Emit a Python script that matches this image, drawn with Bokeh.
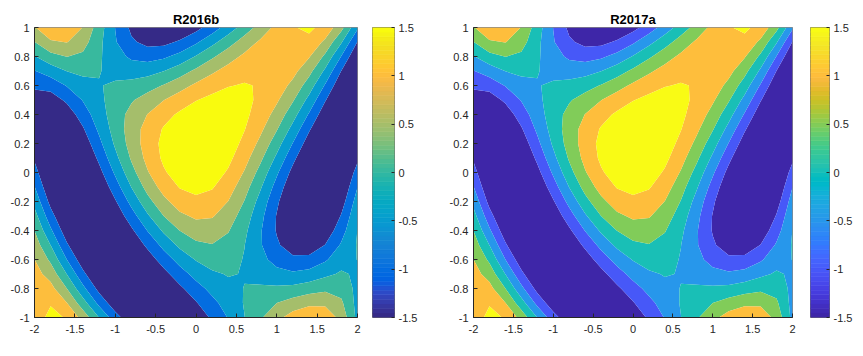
import numpy as np
from bokeh.plotting import figure
from bokeh.layouts import row
from bokeh.models import FixedTicker
from bokeh.embed import file_html
from bokeh.resources import INLINE

# ---------------- data ----------------
x_vals = [-2.0, -1.8, -1.6, -1.4, -1.2, -1.0, -0.8, -0.6, -0.4, -0.2, 0.0,
          0.2, 0.4, 0.6, 0.8, 1.0, 1.2, 1.4, 1.6, 1.8, 2.0]
y_vals = [-1.0, -0.9, -0.8, -0.7, -0.6, -0.5, -0.4, -0.3, -0.2, -0.1, 0.0,
          0.1, 0.2, 0.3, 0.4, 0.5, 0.6, 0.7, 0.8, 0.9, 1.0]

# one row of surface values per y value (x from -2 to 2)
z_y_m10 = [1.24, 1.64, 1.46, 0.82, -0.01, -0.79, -1.38, -1.70, -1.77, -1.63, -1.33, -0.92, -0.47, -0.01, 0.44, 0.86, 1.22, 1.43, 1.35, 0.83, -0.14]
z_y_m09 = [1.34, 1.46, 1.01, 0.21, -0.64, -1.32, -1.72, -1.83, -1.71, -1.42, -1.04, -0.64, -0.28, 0.03, 0.28, 0.50, 0.71, 0.88, 0.89, 0.58, -0.17]
z_y_m08 = [1.31, 1.16, 0.50, -0.37, -1.16, -1.67, -1.86, -1.77, -1.49, -1.10, -0.70, -0.35, -0.11, 0.01, 0.06, 0.08, 0.14, 0.27, 0.39, 0.32, -0.14]
z_y_m07 = [1.19, 0.80, -0.01, -0.88, -1.54, -1.85, -1.83, -1.57, -1.16, -0.72, -0.33, -0.07, 0.03, -0.02, -0.17, -0.34, -0.42, -0.33, -0.11, 0.06, -0.07]
z_y_m06 = [1.00, 0.40, -0.50, -1.30, -1.78, -1.89, -1.67, -1.26, -0.77, -0.31, 0.03, 0.20, 0.18, -0.03, -0.35, -0.69, -0.89, -0.86, -0.57, -0.18, 0.01]
z_y_m05 = [0.77, -0.01, -0.93, -1.62, -1.90, -1.80, -1.41, -0.89, -0.35, 0.11, 0.40, 0.48, 0.34, 0.01, -0.46, -0.93, -1.26, -1.30, -0.99, -0.44, 0.04]
z_y_m04 = [0.49, -0.42, -1.30, -1.83, -1.91, -1.61, -1.09, -0.48, 0.08, 0.51, 0.75, 0.76, 0.53, 0.11, -0.46, -1.04, -1.49, -1.62, -1.34, -0.70, 0.01]
z_y_m03 = [0.18, -0.80, -1.60, -1.95, -1.82, -1.36, -0.72, -0.07, 0.50, 0.90, 1.08, 1.04, 0.75, 0.27, -0.36, -1.03, -1.58, -1.83, -1.62, -0.96, -0.09]
z_y_m02 = [-0.15, -1.16, -1.82, -1.97, -1.65, -1.05, -0.35, 0.33, 0.87, 1.24, 1.39, 1.30, 0.99, 0.48, -0.19, -0.91, -1.54, -1.91, -1.83, -1.23, -0.27]
z_y_m01 = [-0.48, -1.45, -1.96, -1.90, -1.43, -0.73, 0.01, 0.68, 1.20, 1.53, 1.64, 1.54, 1.23, 0.71, 0.05, -0.69, -1.40, -1.89, -1.96, -1.47, -0.51]
z_y_p00 = [-0.79, -1.68, -2.00, -1.76, -1.16, -0.42, 0.32, 0.96, 1.44, 1.74, 1.84, 1.74, 1.44, 0.96, 0.32, -0.42, -1.16, -1.76, -2.00, -1.68, -0.79]
z_y_p01 = [-1.07, -1.82, -1.95, -1.56, -0.89, -0.14, 0.56, 1.15, 1.59, 1.87, 1.96, 1.88, 1.62, 1.19, 0.60, -0.10, -0.86, -1.55, -1.95, -1.84, -1.10]
z_y_p02 = [-1.27, -1.86, -1.81, -1.32, -0.63, 0.08, 0.71, 1.23, 1.63, 1.89, 2.00, 1.95, 1.74, 1.38, 0.87, 0.22, -0.52, -1.26, -1.82, -1.93, -1.39]
z_y_p03 = [-1.37, -1.78, -1.58, -1.05, -0.40, 0.21, 0.74, 1.19, 1.54, 1.80, 1.93, 1.93, 1.80, 1.52, 1.10, 0.54, -0.16, -0.93, -1.61, -1.94, -1.64]
z_y_p04 = [-1.36, -1.57, -1.28, -0.76, -0.22, 0.25, 0.66, 1.01, 1.33, 1.58, 1.76, 1.83, 1.78, 1.60, 1.29, 0.82, 0.20, -0.55, -1.32, -1.85, -1.83]
z_y_p05 = [-1.21, -1.25, -0.91, -0.47, -0.10, 0.20, 0.45, 0.71, 0.99, 1.25, 1.48, 1.63, 1.67, 1.61, 1.41, 1.07, 0.55, -0.15, -0.96, -1.67, -1.93]
z_y_p06 = [-0.92, -0.81, -0.47, -0.18, -0.02, 0.06, 0.15, 0.30, 0.53, 0.81, 1.09, 1.32, 1.48, 1.53, 1.47, 1.26, 0.87, 0.26, -0.55, -1.39, -1.92]
z_y_p07 = [-0.52, -0.27, 0.01, 0.11, 0.02, -0.12, -0.22, -0.18, -0.01, 0.27, 0.60, 0.92, 1.18, 1.37, 1.44, 1.39, 1.15, 0.66, -0.09, -1.01, -1.78]
z_y_p08 = [-0.03, 0.33, 0.51, 0.40, 0.07, -0.31, -0.59, -0.69, -0.59, -0.33, 0.03, 0.42, 0.79, 1.10, 1.32, 1.43, 1.36, 1.04, 0.40, -0.52, -1.48]
z_y_p09 = [0.49, 0.93, 1.02, 0.70, 0.13, -0.46, -0.92, -1.15, -1.14, -0.93, -0.58, -0.15, 0.29, 0.72, 1.08, 1.36, 1.48, 1.37, 0.90, 0.05, -1.02]
z_y_p10 = [0.96, 1.46, 1.46, 0.98, 0.24, -0.51, -1.11, -1.48, -1.59, -1.47, -1.17, -0.76, -0.28, 0.22, 0.70, 1.14, 1.47, 1.59, 1.35, 0.66, -0.42]

levels = [-1.5, -1.0, -0.5, 0.0, 0.5, 1.0, 1.5]
clim = [-1.5, 1.5]

x_ticks = [-2.0, -1.5, -1.0, -0.5, 0.0, 0.5, 1.0, 1.5, 2.0]
x_tick_labels = ["-2", "-1.5", "-1", "-0.5", "0", "0.5", "1", "1.5", "2"]
y_ticks = [-1.0, -0.8, -0.6, -0.4, -0.2, 0.0, 0.2, 0.4, 0.6, 0.8, 1.0]
y_tick_labels = ["-1", "-0.8", "-0.6", "-0.4", "-0.2", "0", "0.2", "0.4", "0.6", "0.8", "1"]
cbar_ticks = [-1.5, -1.0, -0.5, 0.0, 0.5, 1.0, 1.5]
cbar_tick_labels = ["-1.5", "-1", "-0.5", "0", "0.5", "1", "1.5"]
titles = ["R2016b", "R2017a"]

# ---------------- colormaps (style) ----------------
PARULA_OLD = [
    (0.2081, 0.1663, 0.5292), (0.2116, 0.1898, 0.5777), (0.2123, 0.2138, 0.6270), (0.2081, 0.2386, 0.6771),
    (0.1959, 0.2645, 0.7279), (0.1707, 0.2919, 0.7792), (0.1253, 0.3242, 0.8303), (0.0591, 0.3598, 0.8683),
    (0.0117, 0.3875, 0.8820), (0.0060, 0.4086, 0.8828), (0.0165, 0.4266, 0.8786), (0.0329, 0.4430, 0.8720),
    (0.0498, 0.4586, 0.8641), (0.0629, 0.4737, 0.8554), (0.0723, 0.4887, 0.8467), (0.0779, 0.5040, 0.8384),
    (0.0793, 0.5200, 0.8312), (0.0749, 0.5375, 0.8263), (0.0641, 0.5570, 0.8240), (0.0488, 0.5772, 0.8228),
    (0.0343, 0.5966, 0.8199), (0.0265, 0.6137, 0.8135), (0.0239, 0.6287, 0.8038), (0.0231, 0.6418, 0.7913),
    (0.0228, 0.6535, 0.7768), (0.0267, 0.6642, 0.7607), (0.0384, 0.6743, 0.7436), (0.0590, 0.6838, 0.7254),
    (0.0843, 0.6928, 0.7062), (0.1133, 0.7015, 0.6859), (0.1453, 0.7098, 0.6646), (0.1801, 0.7177, 0.6424),
    (0.2178, 0.7250, 0.6193), (0.2586, 0.7317, 0.5954), (0.3022, 0.7376, 0.5712), (0.3482, 0.7424, 0.5473),
    (0.3953, 0.7459, 0.5244), (0.4420, 0.7481, 0.5033), (0.4871, 0.7491, 0.4840), (0.5300, 0.7491, 0.4661),
    (0.5709, 0.7485, 0.4494), (0.6099, 0.7473, 0.4337), (0.6473, 0.7456, 0.4188), (0.6834, 0.7435, 0.4044),
    (0.7184, 0.7411, 0.3905), (0.7525, 0.7384, 0.3768), (0.7858, 0.7356, 0.3633), (0.8185, 0.7327, 0.3498),
    (0.8507, 0.7299, 0.3360), (0.8824, 0.7274, 0.3217), (0.9139, 0.7258, 0.3063), (0.9450, 0.7261, 0.2886),
    (0.9739, 0.7314, 0.2666), (0.9938, 0.7455, 0.2403), (0.9990, 0.7653, 0.2164), (0.9955, 0.7861, 0.1967),
    (0.9880, 0.8066, 0.1794), (0.9789, 0.8271, 0.1633), (0.9697, 0.8481, 0.1475), (0.9626, 0.8705, 0.1309),
    (0.9589, 0.8949, 0.1132), (0.9598, 0.9218, 0.0948), (0.9661, 0.9514, 0.0755), (0.9763, 0.9831, 0.0538),
]
PARULA_NEW = [
    (0.2422, 0.1504, 0.6603), (0.2504, 0.1650, 0.7076), (0.2578, 0.1818, 0.7511), (0.2647, 0.1978, 0.7952),
    (0.2706, 0.2147, 0.8364), (0.2751, 0.2342, 0.8710), (0.2783, 0.2559, 0.8991), (0.2803, 0.2782, 0.9221),
    (0.2813, 0.3006, 0.9414), (0.2810, 0.3228, 0.9579), (0.2795, 0.3447, 0.9717), (0.2760, 0.3667, 0.9829),
    (0.2699, 0.3892, 0.9906), (0.2602, 0.4123, 0.9952), (0.2440, 0.4358, 0.9988), (0.2206, 0.4603, 0.9973),
    (0.1963, 0.4847, 0.9892), (0.1834, 0.5074, 0.9798), (0.1786, 0.5289, 0.9682), (0.1764, 0.5499, 0.9520),
    (0.1687, 0.5703, 0.9359), (0.1540, 0.5902, 0.9218), (0.1460, 0.6091, 0.9079), (0.1380, 0.6276, 0.8973),
    (0.1248, 0.6459, 0.8883), (0.1113, 0.6635, 0.8763), (0.0952, 0.6798, 0.8598), (0.0689, 0.6948, 0.8394),
    (0.0297, 0.7082, 0.8163), (0.0036, 0.7203, 0.7917), (0.0067, 0.7312, 0.7660), (0.0433, 0.7411, 0.7394),
    (0.0964, 0.7500, 0.7120), (0.1408, 0.7584, 0.6842), (0.1717, 0.7670, 0.6554), (0.1938, 0.7758, 0.6251),
    (0.2161, 0.7843, 0.5923), (0.2470, 0.7918, 0.5567), (0.2906, 0.7973, 0.5188), (0.3406, 0.8008, 0.4789),
    (0.3909, 0.8029, 0.4354), (0.4456, 0.8024, 0.3909), (0.5044, 0.7993, 0.3480), (0.5616, 0.7942, 0.3045),
    (0.6174, 0.7876, 0.2612), (0.6720, 0.7793, 0.2227), (0.7242, 0.7698, 0.1910), (0.7738, 0.7598, 0.1646),
    (0.8203, 0.7498, 0.1535), (0.8634, 0.7406, 0.1596), (0.9035, 0.7330, 0.1774), (0.9393, 0.7288, 0.2100),
    (0.9728, 0.7298, 0.2394), (0.9956, 0.7434, 0.2371), (0.9970, 0.7659, 0.2199), (0.9952, 0.7893, 0.2028),
    (0.9892, 0.8136, 0.1885), (0.9786, 0.8386, 0.1766), (0.9676, 0.8639, 0.1643), (0.9610, 0.8890, 0.1537),
    (0.9597, 0.9135, 0.1423), (0.9628, 0.9373, 0.1265), (0.9691, 0.9606, 0.1064), (0.9769, 0.9839, 0.0805),
]


def to_hex(rgb):
    return "#%02x%02x%02x" % tuple(int(round(c * 255)) for c in rgb)


pal_old = [to_hex(c) for c in PARULA_OLD]
pal_new = [to_hex(c) for c in PARULA_NEW]

Z = np.array([z_y_m10, z_y_m09, z_y_m08, z_y_m07, z_y_m06, z_y_m05, z_y_m04,
              z_y_m03, z_y_m02, z_y_m01, z_y_p00, z_y_p01, z_y_p02, z_y_p03,
              z_y_p04, z_y_p05, z_y_p06, z_y_p07, z_y_p08, z_y_p09, z_y_p10])

FONT = "Liberation Sans"
TXT = "#262626"
TOP, BOTTOM = 27, 30
FRAME_H = 290
H = TOP + FRAME_H + BOTTOM


def level_color(pal, lev):
    n = len(pal)
    idx = int(np.floor((lev - clim[0]) / (clim[1] - clim[0]) * n))
    return pal[max(0, min(n - 1, idx))]


def make_panel(title, pal, left, right, frame_w):
    p = figure(width=left + frame_w + right, height=H, x_range=(-2, 2), y_range=(-1, 1),
               toolbar_location=None, output_backend="svg",
               min_border_left=left, min_border_right=right,
               min_border_top=TOP, min_border_bottom=BOTTOM)
    zmin, zmax = float(Z.min()), float(Z.max())
    edges = [min(zmin, levels[0]) - 0.5] + levels[1:] + [max(zmax, levels[-1]) + 0.5]
    fills = [level_color(pal, lv) for lv in levels]
    p.contour(x=x_vals, y=y_vals, z=Z, levels=edges, fill_color=fills)
    p.grid.visible = False
    p.outline_line_color = TXT
    p.outline_line_alpha = 0.55
    for ax, ticks, labs, so in ((p.xaxis, x_ticks, x_tick_labels, 7),
                                 (p.yaxis, y_ticks, y_tick_labels, 5)):
        ax.ticker = FixedTicker(ticks=ticks)
        ax.major_label_overrides = dict(zip(ticks, labs))
        ax.major_tick_in = 4
        ax.major_tick_out = 0
        ax.minor_tick_line_color = None
        ax.axis_line_color = TXT
        ax.major_tick_line_color = TXT
        ax.major_label_text_font = FONT
        ax.major_label_text_font_size = "11px"
        ax.major_label_text_color = TXT
        ax.major_label_standoff = so
    p.title.text = title
    p.title.align = "center"
    p.title.text_font = FONT
    p.title.text_font_style = "bold"
    p.title.text_font_size = "13px"
    p.title.text_color = "black"
    p.title.standoff = 2
    return p


def make_cbar(pal, left, right, bar_w):
    c = figure(width=left + bar_w + right, height=H, x_range=(0, 1), y_range=(clim[0], clim[1]),
               toolbar_location=None, output_backend="svg", y_axis_location="right",
               min_border_left=left, min_border_right=right,
               min_border_top=TOP, min_border_bottom=BOTTOM)
    e = np.linspace(clim[0], clim[1], len(pal) + 1)
    c.quad(left=0, right=1, bottom=e[:-1], top=e[1:], fill_color=pal, line_color=pal, line_width=0.6)
    c.xaxis.visible = False
    c.grid.visible = False
    c.outline_line_color = "#6e6e6e"
    ax = c.yaxis[0]
    ax.ticker = FixedTicker(ticks=cbar_ticks)
    ax.major_label_overrides = dict(zip(cbar_ticks, cbar_tick_labels))
    ax.axis_line_color = None
    ax.major_tick_in = 3
    ax.major_tick_out = 0
    ax.major_tick_line_color = TXT
    ax.minor_tick_line_color = None
    ax.major_label_text_font = FONT
    ax.major_label_text_font_size = "11px"
    ax.major_label_text_color = TXT
    ax.major_label_standoff = 4
    return c


p1 = make_panel(titles[0], pal_old, 34, 5, 323)
c1 = make_cbar(pal_old, 10, 49, 22)
p2 = make_panel(titles[1], pal_new, 30, 8, 319)
c2 = make_cbar(pal_new, 10, 23, 22)

layout = row(p1, c1, p2, c2)
open("out.html", "w").write(file_html(layout, INLINE))
